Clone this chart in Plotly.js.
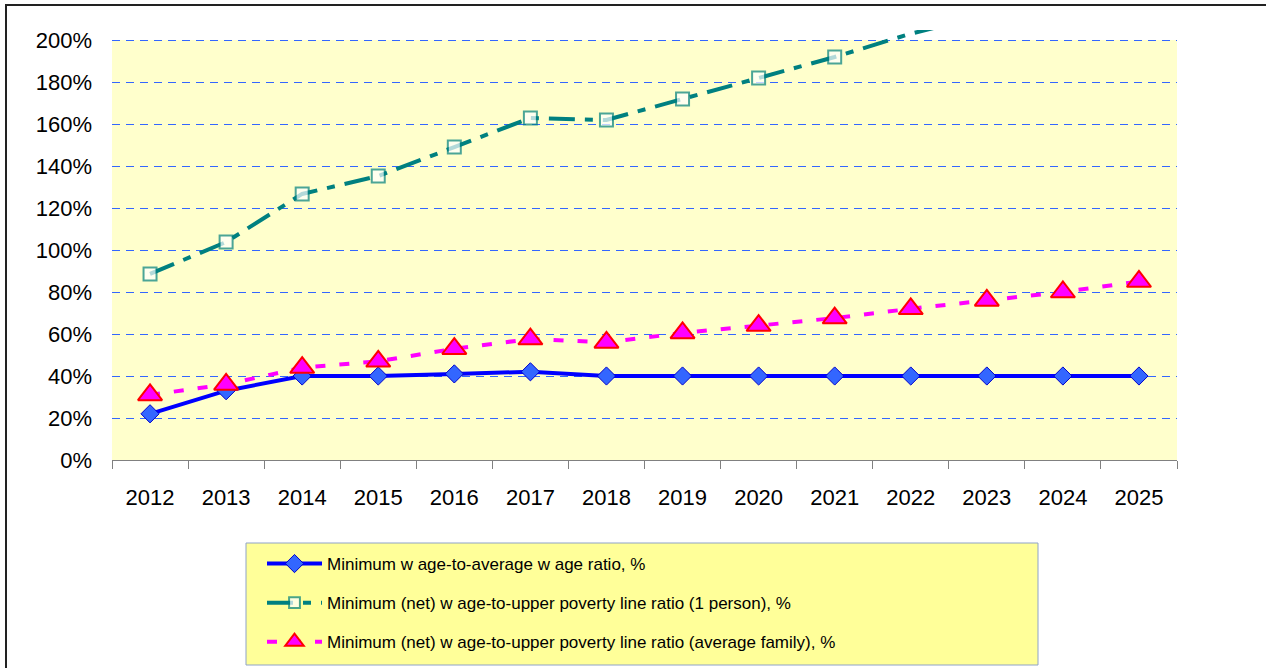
<!DOCTYPE html>
<html>
<head>
<meta charset="utf-8">
<script src="https://cdn.plot.ly/plotly-3.0.1.min.js"></script>
<style>html,body{margin:0;padding:0;background:#fff;}#chart{width:1266px;height:668px;}</style>
</head>
<body>
<div id="chart"></div>
<script>
const years = ['2012','2013','2014','2015','2016','2017','2018','2019','2020','2021','2022','2023','2024','2025'];
const minToAvg = [0.22, 0.33, 0.40, 0.40, 0.41, 0.42, 0.40, 0.40, 0.40, 0.40, 0.40, 0.40, 0.40, 0.40];
const onePersonYears = ['2012','2013','2014','2015','2016','2017','2018','2019','2020','2021','2022','2023'];
const onePerson = [0.886, 1.038, 1.267, 1.352, 1.490, 1.629, 1.619, 1.719, 1.819, 1.919, 2.03, 2.12];
const avgFamily = [0.31, 0.36, 0.44, 0.47, 0.53, 0.576, 0.56, 0.605, 0.64, 0.676, 0.72, 0.76, 0.80, 0.85];
const seriesNames = [
  'Minimum w age-to-average w age ratio, %',
  'Minimum (net) w age-to-upper poverty line ratio (1 person), %',
  'Minimum (net) w age-to-upper poverty line ratio (average family), %'
];
const yMax = 2.0;

// geometry helpers (pixels -> paper)
const L = 112, R = 1177, T = 30, B = 460;
const px = v => (v - L) / (R - L);
const py = v => (B - v) / (B - T);

const traces = [
  {
    x: years, y: minToAvg, name: seriesNames[0], type: 'scatter', mode: 'lines+markers',
    legendgroup: 'a',
    line: {color: '#0000FF', width: 4},
    marker: {symbol: 'diamond', size: 14, color: '#3366FF', line: {color: '#0000CC', width: 1}}
  },
  {
    x: onePersonYears, y: onePerson, name: seriesNames[1], type: 'scatter', mode: 'lines+markers',
    legendgroup: 'b',
    line: {color: '#008080', width: 4, dash: '26px,10px,8px,10px'},
    marker: {symbol: 'square', size: onePerson.map(v => v > yMax ? 0 : 13), color: '#FFFFFF', line: {color: '#008080', width: 2}}
  },
  {
    x: years, y: avgFamily, name: seriesNames[2], type: 'scatter', mode: 'lines+markers',
    legendgroup: 'c',
    line: {color: '#FF00FF', width: 4, dash: '10px,14px'},
    marker: {symbol: 'triangle-up', size: 21, color: '#FF00FF', line: {color: '#FF0000', width: 2}}
  }
];

const layout = {
  width: 1266, height: 668,
  margin: {l: L, r: 1266 - R, t: T, b: 668 - B, autoexpand: false},
  paper_bgcolor: '#FFFFFF',
  plot_bgcolor: 'rgba(0,0,0,0)',
  font: {family: '"Liberation Sans", Arial, sans-serif', color: '#000'},
  showlegend: true,
  xaxis: {
    type: 'category', categoryorder: 'array', categoryarray: years,
    range: [-0.5, 13.5], automargin: false,
    showgrid: false, zeroline: false,
    showline: true, linecolor: '#808080', linewidth: 1,
    ticks: 'outside', tickson: 'boundaries', ticklen: 8, tickcolor: '#808080',
    tickfont: {size: 22, family: '"Liberation Sans", Arial, sans-serif'},
    ticklabelstandoff: 18
  },
  yaxis: {
    range: [0, (B - T) / ((B - 40) / 2.0)], automargin: false,
    tickvals: [0, 0.2, 0.4, 0.6, 0.8, 1.0, 1.2, 1.4, 1.6, 1.8, 2.0],
    tickformat: '.0%',
    showgrid: true, gridcolor: '#3366FF', gridwidth: 1, griddash: '8px,6px',
    zeroline: false, showline: false, ticks: '',
    tickfont: {size: 22, family: '"Liberation Sans", Arial, sans-serif'},
    ticklabelstandoff: 19
  },
  legend: {
    x: px(262), y: py(546), xanchor: 'left', yanchor: 'top',
    bgcolor: 'rgba(0,0,0,0)', borderwidth: 0,
    font: {size: 17, family: '"Liberation Sans Narrow", "Arial Narrow", "Liberation Sans", Arial, sans-serif'},
    itemwidth: 55, tracegroupgap: 14, traceorder: 'grouped'
  },
  shapes: [
    {type: 'rect', layer: 'below', xref: 'paper', yref: 'y', x0: 0, x1: 1, y0: 0, y1: yMax,
     fillcolor: '#FFFFCC', line: {width: 0}},
    {type: 'rect', layer: 'below', xref: 'paper', yref: 'paper', x0: px(246), x1: px(1038), y0: py(665), y1: py(543),
     fillcolor: '#FFFF99', line: {color: '#8FA3C8', width: 1}},
    {type: 'rect', layer: 'below', xref: 'paper', yref: 'paper', x0: px(6), x1: px(1275), y0: py(675), y1: py(5),
     fillcolor: 'rgba(0,0,0,0)', line: {color: '#222222', width: 2}}
  ]
};

Plotly.newPlot('chart', traces, layout, {displayModeBar: false, staticPlot: true});
</script>
</body>
</html>
